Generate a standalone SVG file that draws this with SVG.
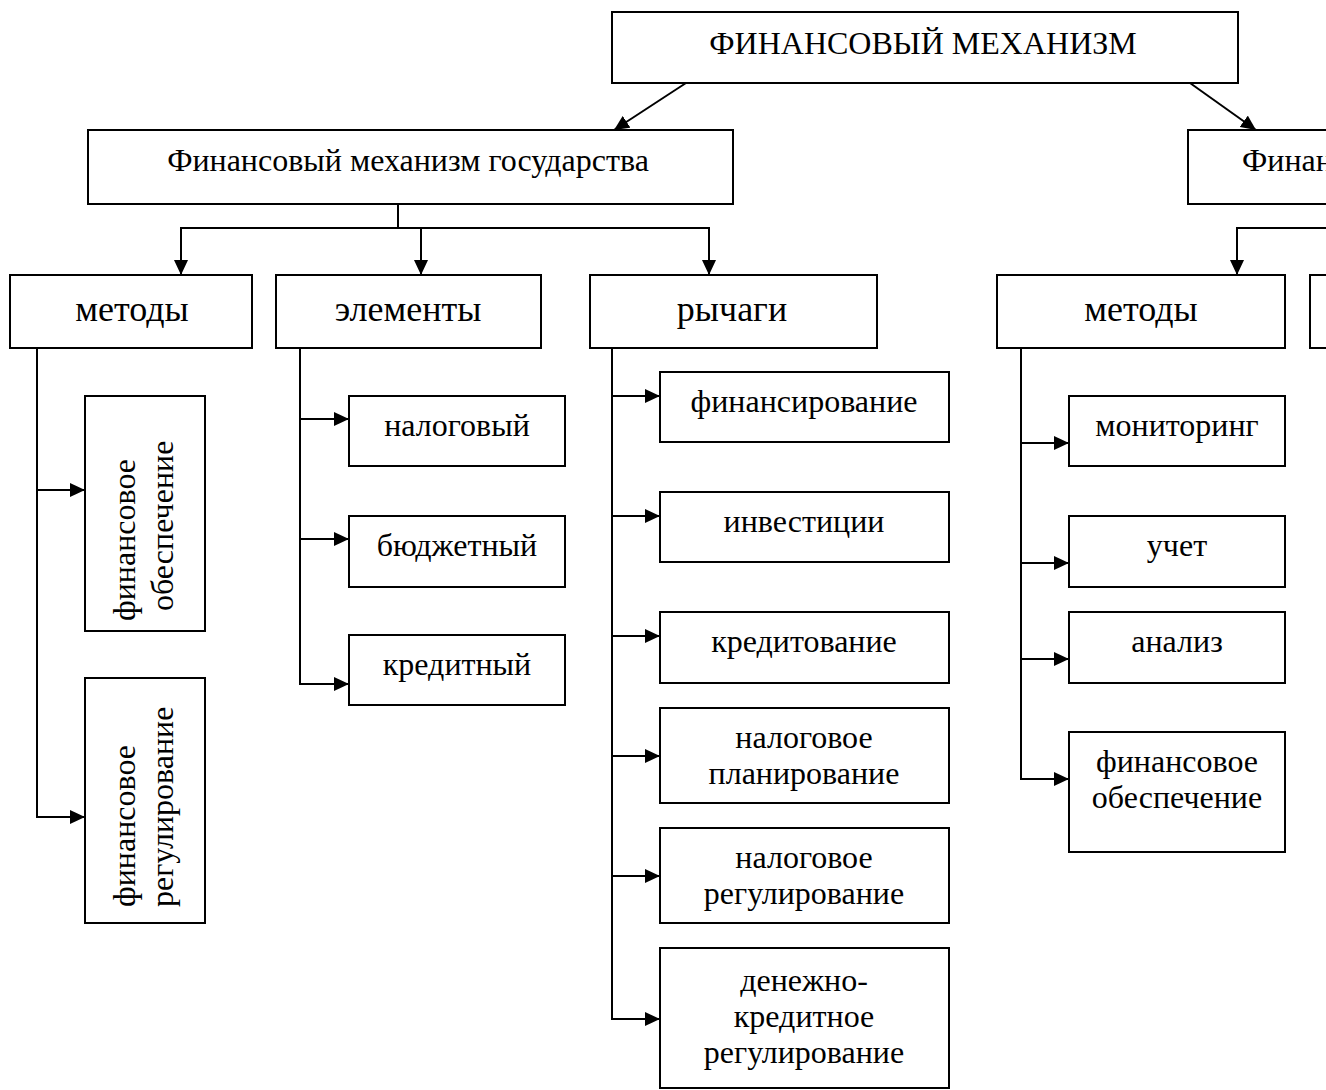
<svg xmlns="http://www.w3.org/2000/svg" width="1326" height="1090" viewBox="0 0 1326 1090">
<defs>
<marker id="ah" markerUnits="userSpaceOnUse" markerWidth="16" markerHeight="14" refX="15" refY="7" orient="auto">
<path d="M0,0 L15,7 L0,14 Z" fill="#000"/>
</marker>
<style>
.box{fill:#fff;stroke:#000;stroke-width:2}
.t{font-family:"Liberation Serif","Times New Roman",serif;font-size:32px;fill:#000;text-anchor:middle}
.tl{font-size:36px}
.s{text-anchor:start}
.c{fill:none;stroke:#000;stroke-width:2}
.a{fill:none;stroke:#000;stroke-width:2;marker-end:url(#ah)}
</style>
</defs>
<rect width="1326" height="1090" fill="#fff"/>

<g id="connectors">
<line class="a" x1="686" y1="83" x2="614" y2="130"/>
<line class="a" x1="1190" y1="83" x2="1256" y2="130"/>
<polyline class="c" points="398,204 398,228"/>
<line class="c" x1="180" y1="228" x2="710" y2="228"/>
<line class="a" x1="181" y1="228" x2="181" y2="275"/>
<line class="a" x1="421" y1="228" x2="421" y2="275"/>
<line class="a" x1="709" y1="228" x2="709" y2="275"/>
<polyline class="a" points="1330,228 1237,228 1237,275"/>

<line class="c" x1="37" y1="348" x2="37" y2="818"/>
<line class="a" x1="36" y1="490" x2="85" y2="490"/>
<line class="a" x1="36" y1="817" x2="85" y2="817"/>

<line class="c" x1="300" y1="348" x2="300" y2="685"/>
<line class="a" x1="299" y1="419" x2="349" y2="419"/>
<line class="a" x1="299" y1="539" x2="349" y2="539"/>
<line class="a" x1="299" y1="684" x2="349" y2="684"/>

<line class="c" x1="612" y1="348" x2="612" y2="1020"/>
<line class="a" x1="611" y1="396" x2="660" y2="396"/>
<line class="a" x1="611" y1="516" x2="660" y2="516"/>
<line class="a" x1="611" y1="636" x2="660" y2="636"/>
<line class="a" x1="611" y1="756" x2="660" y2="756"/>
<line class="a" x1="611" y1="876" x2="660" y2="876"/>
<line class="a" x1="611" y1="1019" x2="660" y2="1019"/>

<line class="c" x1="1021" y1="348" x2="1021" y2="780"/>
<line class="a" x1="1020" y1="443" x2="1069" y2="443"/>
<line class="a" x1="1020" y1="563" x2="1069" y2="563"/>
<line class="a" x1="1020" y1="659" x2="1069" y2="659"/>
<line class="a" x1="1020" y1="779" x2="1069" y2="779"/>
</g>

<g id="root">
<rect class="box" x="612" y="12" width="626" height="71"/>
<text class="t" x="923" y="54">ФИНАНСОВЫЙ МЕХАНИЗМ</text>
</g>
<g id="state">
<rect class="box" x="88" y="130" width="645" height="74"/>
<text class="t" x="408" y="171">Финансовый механизм государства</text>
</g>
<g id="enterprise">
<rect class="box" x="1188" y="130" width="200" height="74"/>
<text class="t s" x="1242" y="171">Финан</text>
</g>

<g id="state-methods">
<rect class="box" x="10" y="275" width="242" height="73"/>
<text class="t tl" x="132" y="321">методы</text>
</g>
<g id="state-elements">
<rect class="box" x="276" y="275" width="265" height="73"/>
<text class="t tl" x="408" y="321">элементы</text>
</g>
<g id="state-levers">
<rect class="box" x="590" y="275" width="287" height="73"/>
<text class="t tl" x="732" y="321">рычаги</text>
</g>
<g id="ent-methods">
<rect class="box" x="997" y="275" width="288" height="73"/>
<text class="t tl" x="1141" y="321">методы</text>
</g>
<g id="ent-next">
<rect class="box" x="1310" y="275" width="40" height="73"/>
</g>

<g id="fin-support">
<rect class="box" x="85" y="396" width="120" height="235"/>
<text class="t s" transform="translate(135,621) rotate(-90)">финансовое</text>
<text class="t s" transform="translate(173,611) rotate(-90)">обеспечение</text>
</g>
<g id="fin-regulation">
<rect class="box" x="85" y="678" width="120" height="245"/>
<text class="t s" transform="translate(135,907) rotate(-90)">финансовое</text>
<text class="t s" transform="translate(173,907) rotate(-90)">регулирование</text>
</g>

<g id="el-tax">
<rect class="box" x="349" y="396" width="216" height="70"/>
<text class="t" x="457" y="436">налоговый</text>
</g>
<g id="el-budget">
<rect class="box" x="349" y="516" width="216" height="71"/>
<text class="t" x="457" y="556">бюджетный</text>
</g>
<g id="el-credit">
<rect class="box" x="349" y="635" width="216" height="70"/>
<text class="t" x="457" y="675">кредитный</text>
</g>

<g id="lv-financing">
<rect class="box" x="660" y="372" width="289" height="70"/>
<text class="t" x="804" y="412">финансирование</text>
</g>
<g id="lv-investments">
<rect class="box" x="660" y="492" width="289" height="70"/>
<text class="t" x="804" y="532">инвестиции</text>
</g>
<g id="lv-crediting">
<rect class="box" x="660" y="612" width="289" height="71"/>
<text class="t" x="804" y="652">кредитование</text>
</g>
<g id="lv-tax-planning">
<rect class="box" x="660" y="708" width="289" height="95"/>
<text class="t" x="804" y="748">налоговое</text>
<text class="t" x="804" y="784">планирование</text>
</g>
<g id="lv-tax-regulation">
<rect class="box" x="660" y="828" width="289" height="95"/>
<text class="t" x="804" y="868">налоговое</text>
<text class="t" x="804" y="904">регулирование</text>
</g>
<g id="lv-monetary">
<rect class="box" x="660" y="948" width="289" height="140"/>
<text class="t" x="804" y="991">денежно-</text>
<text class="t" x="804" y="1027">кредитное</text>
<text class="t" x="804" y="1063">регулирование</text>
</g>

<g id="m-monitoring">
<rect class="box" x="1069" y="396" width="216" height="70"/>
<text class="t" x="1177" y="436">мониторинг</text>
</g>
<g id="m-accounting">
<rect class="box" x="1069" y="516" width="216" height="71"/>
<text class="t" x="1177" y="556">учет</text>
</g>
<g id="m-analysis">
<rect class="box" x="1069" y="612" width="216" height="71"/>
<text class="t" x="1177" y="652">анализ</text>
</g>
<g id="m-support">
<rect class="box" x="1069" y="732" width="216" height="120"/>
<text class="t" x="1177" y="772">финансовое</text>
<text class="t" x="1177" y="808">обеспечение</text>
</g>
</svg>
